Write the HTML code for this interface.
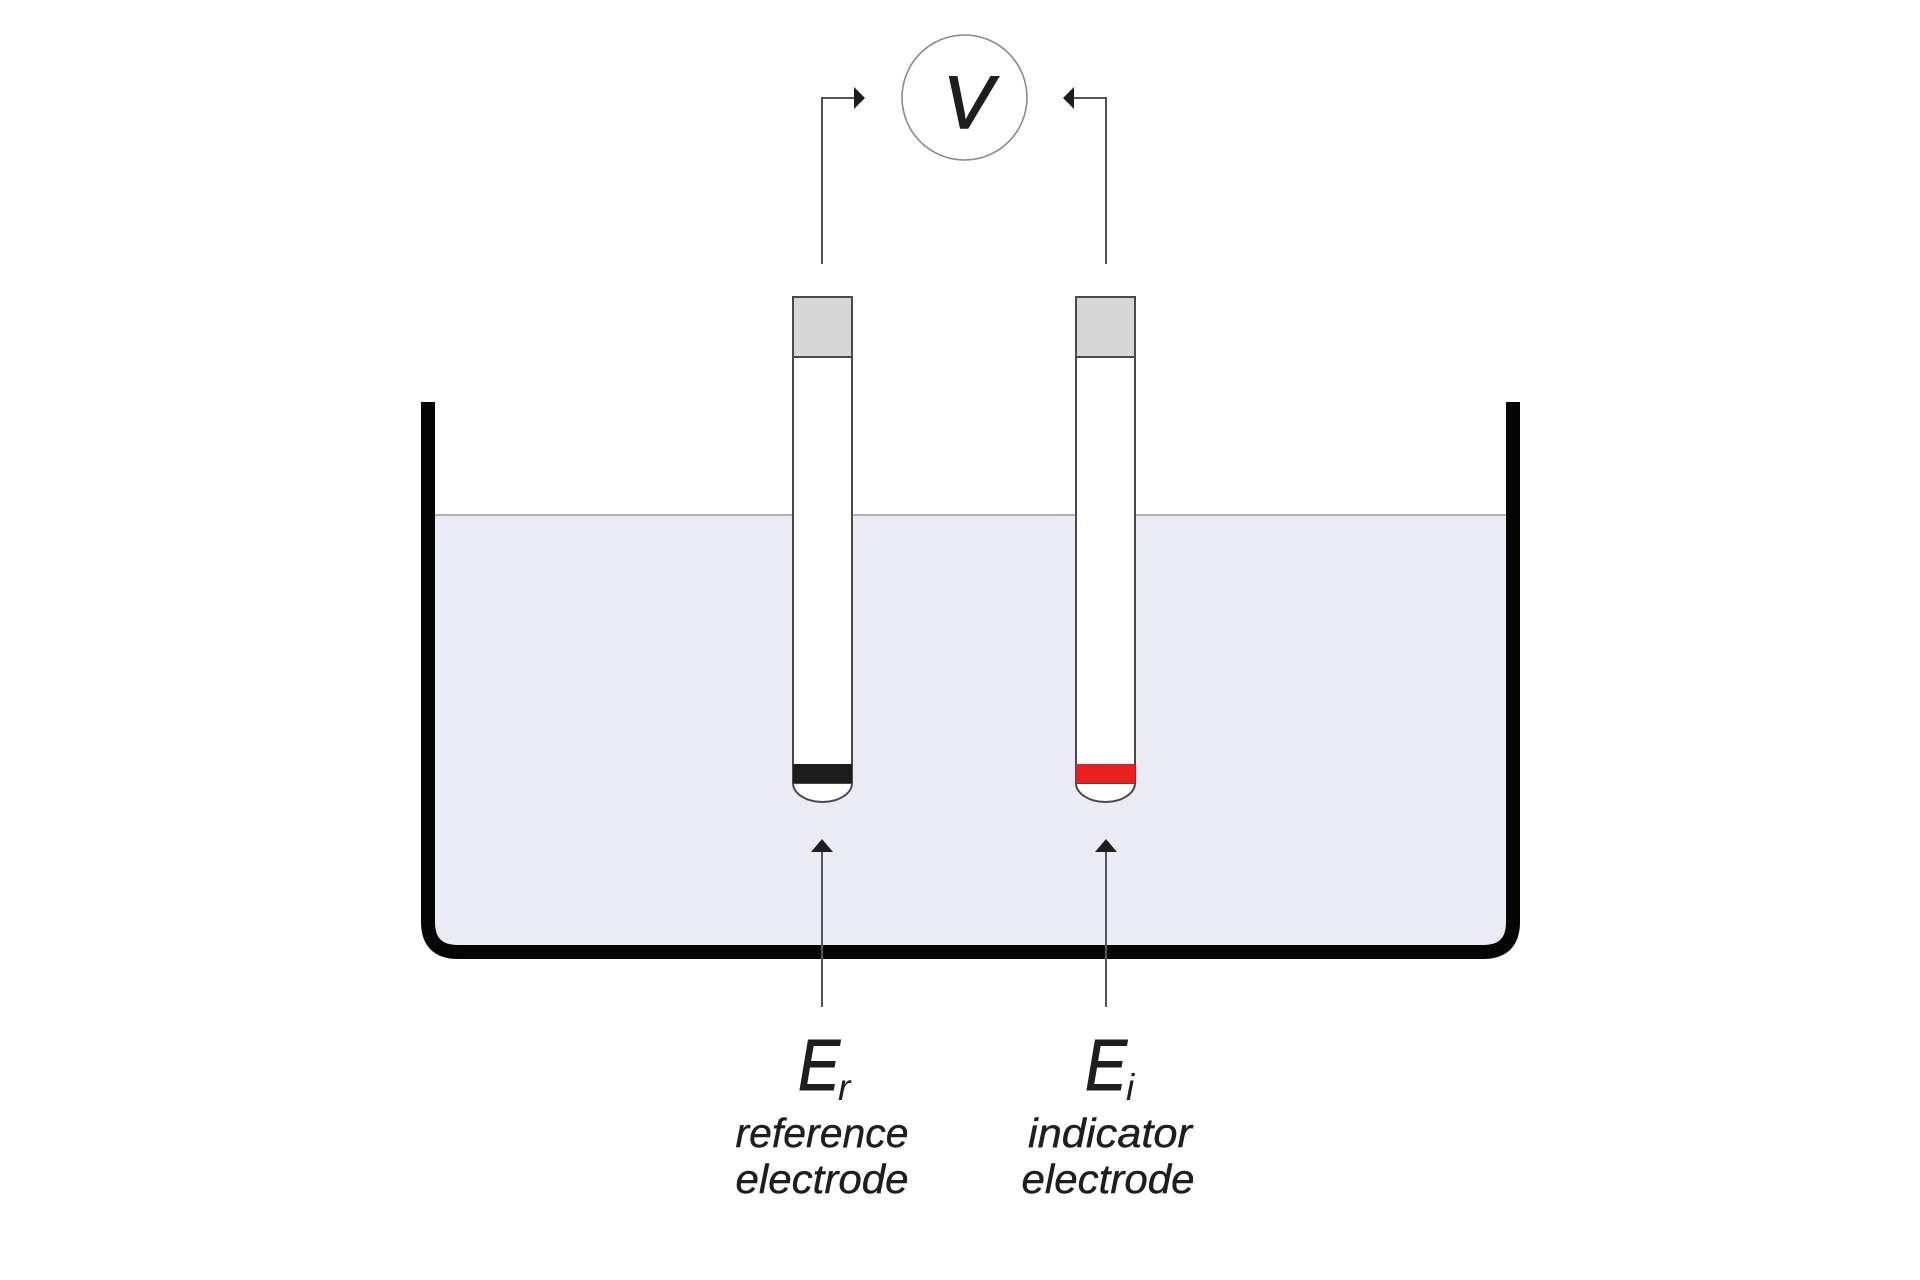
<!DOCTYPE html>
<html>
<head>
<meta charset="utf-8">
<style>
  html, body { margin: 0; padding: 0; background: #ffffff; }
  svg { display: block; }
  text { font-family: "Liberation Sans", sans-serif; font-style: italic; fill: #1e1e1e; }
</style>
</head>
<body>
<svg width="1920" height="1280" viewBox="0 0 1920 1280" xmlns="http://www.w3.org/2000/svg">
  <rect x="0" y="0" width="1920" height="1280" fill="#ffffff"/>

  <!-- Water -->
  <path d="M435,515 L1506,515 L1506,926 Q1506,945 1487,945 L454,945 Q435,945 435,926 Z" fill="#ebebf6"/>
  <line x1="435" y1="515" x2="1506" y2="515" stroke="#9a9aa2" stroke-width="1.6"/>

  <!-- Beaker -->
  <path d="M428,402 L428,922 Q428,952 458,952 L1483,952 Q1513,952 1513,922 L1513,402" fill="none" stroke="#050505" stroke-width="14"/>

  <!-- Left electrode (reference) -->
  <rect x="793" y="297" width="59" height="486" fill="#ffffff" stroke="#4a4a4a" stroke-width="2"/>
  <rect x="793" y="297" width="59" height="60" fill="#d6d6d6" stroke="#4a4a4a" stroke-width="2"/>
  <path d="M793,783 A29.5,19 0 0 0 852,783 Z" fill="#ffffff" stroke="#4a4a4a" stroke-width="2"/>
  <rect x="793" y="764" width="59" height="19" fill="#1c1c1c"/>

  <!-- Right electrode (indicator) -->
  <rect x="1076" y="297" width="59" height="486" fill="#ffffff" stroke="#4a4a4a" stroke-width="2"/>
  <rect x="1076" y="297" width="59" height="60" fill="#d6d6d6" stroke="#4a4a4a" stroke-width="2"/>
  <path d="M1076,783 A29.5,19 0 0 0 1135,783 Z" fill="#ffffff" stroke="#4a4a4a" stroke-width="2"/>
  <rect x="1076" y="764" width="59" height="19" fill="#e8201e"/>

  <!-- Voltmeter -->
  <circle cx="964.5" cy="97.5" r="62.5" fill="#ffffff" stroke="#8a8a8a" stroke-width="1.6"/>
  <text x="968" y="128" font-size="74" text-anchor="middle" stroke="#1e1e1e" stroke-width="1.6">V</text>

  <!-- Top connectors -->
  <polyline points="822,264 822,98 856,98" fill="none" stroke="#555" stroke-width="2"/>
  <polygon points="865,98 854,87 854,109" fill="#1e1e1e"/>
  <polyline points="1106,264 1106,98 1072,98" fill="none" stroke="#555" stroke-width="2"/>
  <polygon points="1063,98 1074,87 1074,109" fill="#1e1e1e"/>

  <!-- Bottom arrows -->
  <line x1="822" y1="1007" x2="822" y2="850" stroke="#555" stroke-width="2"/>
  <polygon points="822,839 811,852 833,852" fill="#1e1e1e"/>
  <line x1="1106" y1="1007" x2="1106" y2="850" stroke="#555" stroke-width="2"/>
  <polygon points="1106,839 1095,852 1117,852" fill="#1e1e1e"/>

  <!-- Labels -->
  <text x="798" y="1090" font-size="72" textLength="42" lengthAdjust="spacingAndGlyphs" stroke="#1e1e1e" stroke-width="1">E</text>
  <text x="838" y="1100" font-size="37">r</text>
  <text x="822" y="1147" font-size="41" text-anchor="middle" textLength="173" lengthAdjust="spacingAndGlyphs" stroke="#1e1e1e" stroke-width="0.4">reference</text>
  <text x="822" y="1193" font-size="41" text-anchor="middle" textLength="173" lengthAdjust="spacingAndGlyphs" stroke="#1e1e1e" stroke-width="0.4">electrode</text>

  <text x="1085" y="1090" font-size="72" textLength="42" lengthAdjust="spacingAndGlyphs" stroke="#1e1e1e" stroke-width="1">E</text>
  <text x="1126" y="1100" font-size="37">i</text>
  <text x="1110" y="1147" font-size="41" text-anchor="middle" textLength="164" lengthAdjust="spacingAndGlyphs" stroke="#1e1e1e" stroke-width="0.4">indicator</text>
  <text x="1108" y="1193" font-size="41" text-anchor="middle" textLength="173" lengthAdjust="spacingAndGlyphs" stroke="#1e1e1e" stroke-width="0.4">electrode</text>
</svg>
</body>
</html>
